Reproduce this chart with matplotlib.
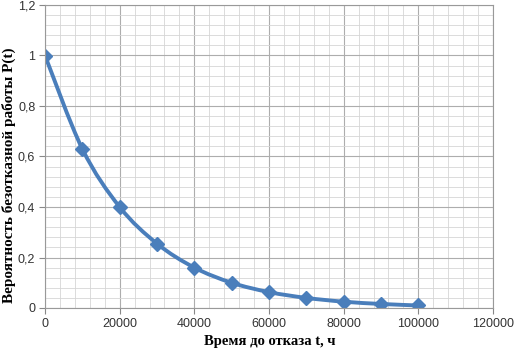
import matplotlib.pyplot as plt
from matplotlib.path import Path
from matplotlib.patches import PathPatch
from matplotlib.ticker import MultipleLocator, FuncFormatter

t_hours = [0, 10000, 20000, 30000, 40000, 50000, 60000, 70000, 80000, 90000, 100000]
p_values = [1.0, 0.63, 0.40, 0.255, 0.16, 0.10, 0.063, 0.04, 0.025, 0.016, 0.01]

line_color = "#4A7EBB"


def smooth_path(xs, ys, k=1 / 6):
    # Bezier path through the points (like Excel "smoothed line")
    verts = [(xs[0], ys[0])]
    codes = [Path.MOVETO]
    n = len(xs)
    for i in range(n - 1):
        x0, y0 = xs[max(i - 1, 0)], ys[max(i - 1, 0)]
        x1, y1 = xs[i], ys[i]
        x2, y2 = xs[i + 1], ys[i + 1]
        x3, y3 = xs[min(i + 2, n - 1)], ys[min(i + 2, n - 1)]
        c1 = (x1 + (x2 - x0) * k, y1 + (y2 - y0) * k)
        c2 = (x2 - (x3 - x1) * k, y2 - (y3 - y1) * k)
        verts += [c1, c2, (x2, y2)]
        codes += [Path.CURVE4] * 3
    return Path(verts, codes)


def y_fmt(v, pos):
    if abs(v) < 1e-9:
        return "0"
    if abs(v - round(v)) < 1e-9:
        return str(int(round(v)))
    return f"{v:.1f}".replace(".", ",")


fig = plt.figure(figsize=(5.15, 3.51), dpi=100)
ax = fig.add_axes([45 / 515, 43 / 351, 448 / 515, 303 / 351])

ax.set_xlim(0, 120000)
ax.set_ylim(0, 1.2)

ax.xaxis.set_major_locator(MultipleLocator(20000))
ax.xaxis.set_minor_locator(MultipleLocator(4000))
ax.yaxis.set_major_locator(MultipleLocator(0.2))
ax.yaxis.set_minor_locator(MultipleLocator(0.04))
ax.grid(which="major", color="#ADADAD", linewidth=0.8)
ax.grid(which="minor", color="#D6D6D6", linewidth=0.6)
ax.set_axisbelow(True)

ax.yaxis.set_major_formatter(FuncFormatter(y_fmt))
ax.tick_params(which="major", length=4, color="#888888", labelsize=9, labelcolor="#333333")
ax.tick_params(axis="y", pad=3)
ax.tick_params(which="minor", length=0)
for lbl in ax.get_xticklabels() + ax.get_yticklabels():
    lbl.set_family("Liberation Sans")
for s in ax.spines.values():
    s.set_color("#999999")
    s.set_linewidth(0.8)

ax.add_patch(PathPatch(smooth_path(t_hours, p_values), facecolor="none",
                       edgecolor=line_color, linewidth=2.8, capstyle="round"))
ax.plot(t_hours, p_values, linestyle="none", marker="D", markersize=7,
        color=line_color, markeredgecolor=line_color)

fig.text(270 / 515, 1 - 342 / 351, "Время до отказа t, ч", ha="center", va="center",
         family="Liberation Serif", fontweight="bold", fontsize=10.5)
fig.text(8.5 / 515, 1 - 175 / 351, "Вероятность безотказной работы P(t)", ha="center",
         va="center", rotation=90, family="Liberation Serif", fontweight="bold", fontsize=11)

fig.savefig("out.png", dpi=100)
